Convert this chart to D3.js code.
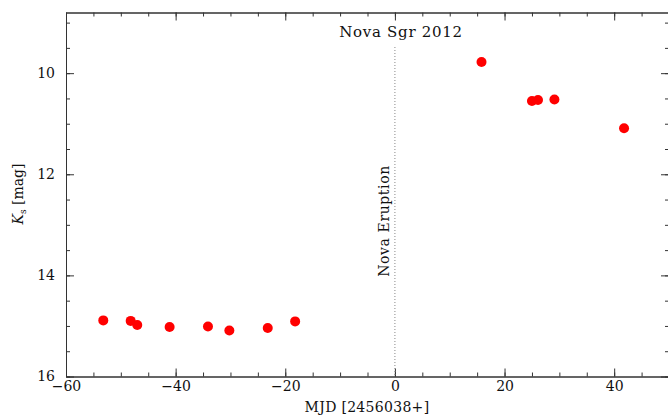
<!DOCTYPE html>
<html>
<head>
<meta charset="utf-8">
<script src="https://cdn.jsdelivr.net/npm/d3@7"></script>
<style>
  html, body { margin: 0; padding: 0; background: #fff; }
  svg { display: block; }
  .axis text { font-family: "DejaVu Serif", serif; font-size: 14px; fill: #111; }
  .axis path, .axis line { stroke: #333; stroke-width: 1; }
</style>
</head>
<body>
<svg id="chart" width="668" height="416"></svg>
<script>
// photometry, days relative to MJD 2456038
const mjd = [-53.2, -48.2, -47.0, -41.1, -34.1, -30.2, -23.2, -18.2, 15.8, 25.0, 26.1, 29.1, 41.8];
const ksMag = [14.89, 14.90, 14.98, 15.02, 15.01, 15.09, 15.04, 14.91, 9.78, 10.55, 10.53, 10.52, 11.09];
const xTicks = [-60, -40, -20, 0, 20, 40];
const yTicks = [10, 12, 14, 16];
const eruptionDay = 0;

const width = 668;
const height = 416;
const margin = { top: 12.5, right: -1, bottom: 39.5, left: 66 };

const svg = d3.select('#chart');

const x = d3.scaleLinear()
  .domain([-60, 50])
  .range([margin.left, width - margin.right]);

const y = d3.scaleLinear()
  .domain([8.8, 16])
  .range([margin.top, height - margin.bottom]);

const xMinor = d3.range(-60, 51, 5);
const yMinor = d3.range(9, 16.01, 0.5);

const frame = svg.append('g');

// bottom
frame.append('g').attr('class', 'axis')
  .attr('transform', `translate(0,${y(16)})`)
  .call(d3.axisBottom(x).tickValues(xMinor).tickSize(-4).tickSizeOuter(0).tickFormat(''));
frame.append('g').attr('class', 'axis')
  .attr('transform', `translate(0,${y(16)})`)
  .call(d3.axisBottom(x).tickValues(xTicks).tickSize(-8).tickSizeOuter(0).tickPadding(5));

// top
frame.append('g').attr('class', 'axis')
  .attr('transform', `translate(0,${y(8.8)})`)
  .call(d3.axisTop(x).tickValues(xMinor).tickSize(-4).tickSizeOuter(0).tickFormat(''));
frame.append('g').attr('class', 'axis')
  .attr('transform', `translate(0,${y(8.8)})`)
  .call(d3.axisTop(x).tickValues(xTicks).tickSize(-8).tickSizeOuter(0).tickFormat(''));

// left
frame.append('g').attr('class', 'axis')
  .attr('transform', `translate(${x(-60)},0)`)
  .call(d3.axisLeft(y).tickValues(yMinor).tickSize(-4).tickSizeOuter(0).tickFormat(''));
frame.append('g').attr('class', 'axis')
  .attr('transform', `translate(${x(-60)},0)`)
  .call(d3.axisLeft(y).tickValues(yTicks).tickSize(-8).tickSizeOuter(0).tickPadding(11));

// right
frame.append('g').attr('class', 'axis')
  .attr('transform', `translate(${x(50)},0)`)
  .call(d3.axisRight(y).tickValues(yMinor).tickSize(-4).tickSizeOuter(0).tickFormat(''));
frame.append('g').attr('class', 'axis')
  .attr('transform', `translate(${x(50)},0)`)
  .call(d3.axisRight(y).tickValues(yTicks).tickSize(-8).tickSizeOuter(0).tickFormat(''));

// eruption marker
svg.append('line')
  .attr('x1', x(eruptionDay)).attr('x2', x(eruptionDay))
  .attr('y1', 47).attr('y2', y(16))
  .attr('stroke', '#888')
  .attr('stroke-width', 1)
  .attr('stroke-dasharray', '1,2');

svg.append('text')
  .attr('transform', `translate(${x(eruptionDay) - 6},221) rotate(-90)`)
  .attr('text-anchor', 'middle')
  .style('font-family', '"DejaVu Serif", serif')
  .style('font-size', '14px')
  .style('letter-spacing', '0.6px')
  .attr('fill', '#111')
  .text('Nova Eruption');

// points
svg.append('g')
  .selectAll('circle')
  .data(mjd.map((d, i) => ({ t: d, k: ksMag[i] })))
  .enter()
  .append('circle')
  .attr('cx', d => x(d.t))
  .attr('cy', d => y(d.k))
  .attr('r', 5)
  .attr('fill', '#ff0000');

// title
svg.append('text')
  .attr('x', 401)
  .attr('y', 37)
  .attr('text-anchor', 'middle')
  .style('font-family', '"DejaVu Serif", serif')
  .style('font-size', '15px')
  .style('letter-spacing', '0.7px')
  .attr('fill', '#111')
  .text('Nova Sgr 2012');

// x label
svg.append('text')
  .attr('x', 367)
  .attr('y', 412)
  .attr('text-anchor', 'middle')
  .style('font-family', '"DejaVu Serif", serif')
  .style('font-size', '14px')
  .style('letter-spacing', '0.3px')
  .attr('fill', '#111')
  .text('MJD [2456038+]');

// y label
const yl = svg.append('text')
  .attr('transform', 'translate(23,194) rotate(-90)')
  .attr('text-anchor', 'middle')
  .style('font-family', '"DejaVu Serif", serif')
  .style('font-size', '14px')
  .attr('fill', '#111');
yl.append('tspan').style('font-style', 'italic').text('K');
yl.append('tspan').attr('dy', 3).style('font-size', '9px').text('s');
yl.append('tspan').attr('dy', -3).text(' [mag]');
</script>
</body>
</html>
